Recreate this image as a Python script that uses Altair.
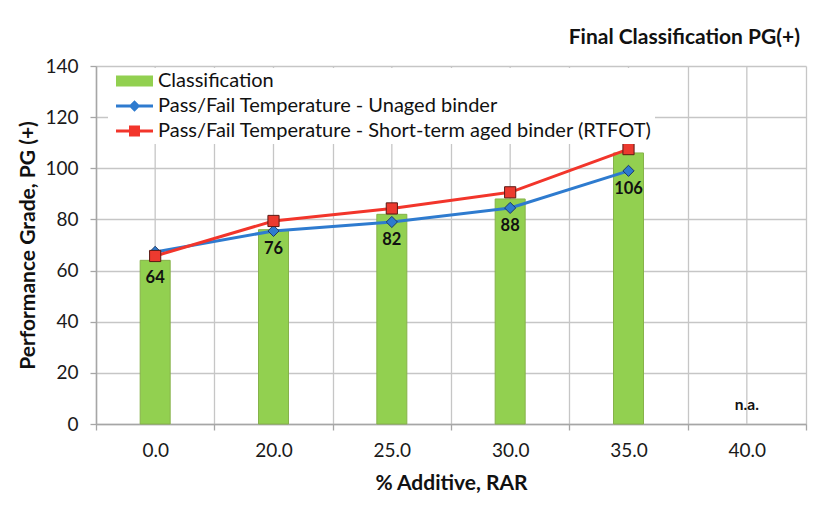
import altair as alt
import pandas as pd

# ---- data ----
categories = ["0.0", "20.0", "25.0", "30.0", "35.0", "40.0"]
classification = [64, 76, 82, 88, 106, None]
unaged = [67.3, 75.5, 79.0, 84.5, 99.0, None]
rtfot = [65.7, 79.4, 84.3, 90.6, 107.5, None]
series_names = [
    "Classification",
    "Pass/Fail Temperature - Unaged binder",
    "Pass/Fail Temperature - Short-term aged binder (RTFOT)",
]
y_ticks = [0, 20, 40, 60, 80, 100, 120, 140]

GREEN = "#92D050"
BLUE = "#2E7BCF"
RED = "#F2352B"
FONT = "Lato"

labels = [str(v) if v is not None else "n.a." for v in classification]
df = pd.DataFrame({
    "additive": categories,
    "pg": classification,
    "unaged": unaged,
    "rtfot": rtfot,
    "label": labels,
})
long = pd.DataFrame({
    "additive": categories * 3,
    "series": [s for s in series_names for _ in categories],
    "value": classification + unaged + rtfot,
})

# legend symbol paths (unit = sqrt(size)/2)
legend_paths = [
    "M-1,-1.1H6.4V1.1H-1Z",
    "M-1,-0.3H6.4V0.3H-1Z M2.7,-1.15L3.85,0L2.7,1.15L1.55,0Z",
    "M-1,-0.3H6.4V0.3H-1Z M1.6,-1.1H3.8V1.1H1.6Z",
]

xscale = alt.Scale(domain=categories, paddingInner=0, paddingOuter=0)
xaxis = alt.Axis(
    tickBand="extent", grid=True, labelAngle=0, labelFont=FONT, labelFontSize=19,
    labelColor="#1a1a1a", titleFont=FONT, titleFontSize=21, titleFontWeight="bold",
    titleColor="#111111", titlePadding=12, tickSize=6, labelPadding=11,
)
yscale = alt.Scale(domain=[0, 140], nice=False)
yaxis = alt.Axis(
    values=y_ticks, grid=True, labelFont=FONT, labelFontSize=19, labelColor="#1a1a1a",
    titleFont=FONT, titleFontSize=21, titleFontWeight="bold", titleColor="#111111",
    titlePadding=6, tickSize=6, labelPadding=12,
)


def X():
    return alt.X("additive:N", scale=xscale, axis=xaxis, sort=categories,
                 title="% Additive, RAR")


def Y(field):
    return alt.Y(field, type="quantitative", scale=yscale, axis=yaxis,
                 title="Performance Grade, PG (+)")


base = alt.Chart(df)

center_rules = base.mark_rule(color="#C6C6C6", strokeWidth=1.3).encode(x=X())

bars = base.mark_bar(size=30, color=GREEN, stroke="#86B24A", strokeWidth=1).encode(
    x=X(), y=Y("pg")
)

blue_line = base.mark_line(color=BLUE, strokeWidth=3).encode(x=X(), y=Y("unaged"))
red_line = base.mark_line(color=RED, strokeWidth=3).encode(x=X(), y=Y("rtfot"))

blue_pts = base.mark_point(
    shape="diamond", filled=True, size=125, fill=BLUE, stroke="#1F3A66",
    strokeWidth=1, opacity=1
).encode(x=X(), y=Y("unaged"))
red_pts = base.mark_point(
    shape="square", filled=True, size=125, fill="#EC3A2F", stroke="#5A1A14",
    strokeWidth=1, opacity=1
).encode(x=X(), y=Y("rtfot"))

value_labels = base.transform_filter("isValid(datum.pg)").transform_calculate(
    ly="min(datum.pg, datum.unaged)"
).mark_text(dy=18, font=FONT, fontSize=16.5, fontWeight="bold", color="#111111").encode(
    x=X(), y=Y("ly"), text="label:N"
)

na_label = base.transform_filter("!isValid(datum.pg)").transform_calculate(
    ly="0"
).mark_text(dy=-19, font=FONT, fontSize=15.5, fontWeight="bold", color="#111111").encode(
    x=X(), y=Y("ly"), text="label:N"
)

legend = alt.Legend(
    title=None, orient="none", legendX=12, legendY=2, padding=3,
    fillColor="white", labelFont=FONT, labelFontSize=20, labelColor="#111111",
    labelLimit=700, symbolSize=100, labelOffset=27, rowPadding=5,
    symbolOpacity=1, symbolStrokeWidth=0,
)
legend_layer = alt.Chart(long).mark_point(filled=True, opacity=0).encode(
    x=X(),
    y=Y("value"),
    color=alt.Color("series:N", scale=alt.Scale(domain=series_names, range=[GREEN, BLUE, RED]),
                    legend=legend, sort=series_names),
    shape=alt.Shape("series:N", scale=alt.Scale(domain=series_names, range=legend_paths),
                    legend=legend, sort=series_names),
)

chart = alt.layer(
    center_rules, bars, blue_line, red_line, blue_pts, red_pts,
    value_labels, na_label, legend_layer,
).properties(
    width=710,
    height=358,
    title=alt.TitleParams(
        "Final Classification PG(+)", anchor="end", frame="group", font=FONT,
        fontSize=21, fontWeight="bold", color="#111111", offset=9, dx=-6,
    ),
    autosize=alt.AutoSizeParams(type="none"),
    padding={"left": 88, "top": 58, "right": 11, "bottom": 73},
).configure_view(stroke=None).configure_axis(
    gridColor="#C6C6C6", gridWidth=1.3, domainColor="#A6A6A6", domainWidth=1.5,
    tickColor="#A6A6A6", tickWidth=1.3,
)

chart.save("out.html", embed_options={"renderer": "svg", "actions": False})
